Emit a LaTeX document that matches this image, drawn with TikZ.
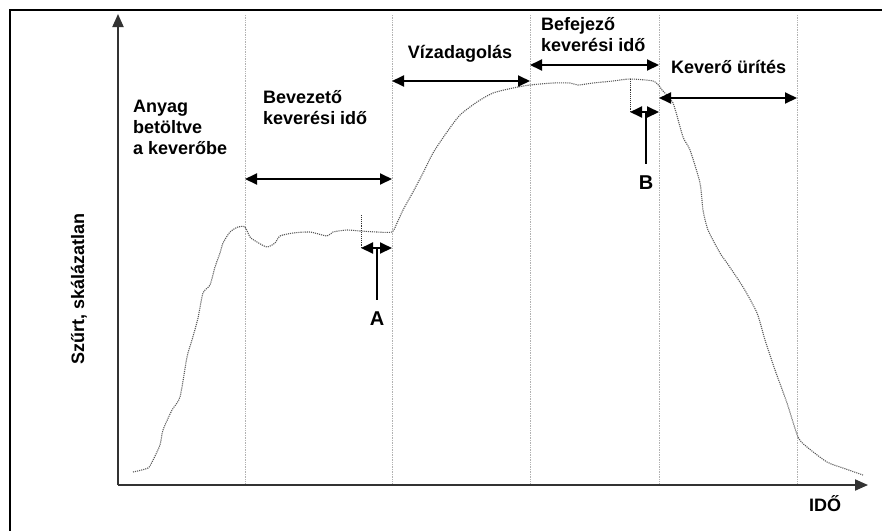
\documentclass[tikz,border=0pt]{standalone}
\usepackage{fontspec}
\setmainfont{Liberation Sans}
\usetikzlibrary{arrows.meta}

\tikzset{
    lbl/.style={font=\fontsize{18}{21}\selectfont\bfseries, inner sep=0pt},
    letter/.style={font=\fontsize{20}{24}\selectfont\bfseries, inner sep=0pt},
    span/.style={line width=1.9pt, {Triangle[length=12pt,width=11pt]}-{Triangle[length=12pt,width=11pt]}},
    guide/.style={gray!60, densely dotted, line width=0.7pt},
    axis/.style={line width=1.9pt, black!80, -{Triangle[length=13pt,width=11pt]}},
    curve/.style={black!65, densely dotted, line width=1.1pt},
}

\begin{document}
\begin{tikzpicture}[x=1pt,y=-1pt]
    \useasboundingbox (0,0) rectangle (882,531);
    % Frame (only the top and left edge are visible)
    \draw[line width=2pt] (882,10) -- (10,10) -- (10,531);

    % Axes
    \coordinate (o) at (118,485);
    \coordinate (ytop) at (118,14);
    \coordinate (xend) at (868,485);
    \draw[axis] (o) -- (ytop);
    \draw[axis] (o) -- (xend);

    % Phase boundaries
    \foreach \x in {245,392,530,659,797}
        \draw[guide] (\x,15) -- (\x,484);

    % Measured curve
    \draw[curve] plot[smooth, tension=0.4] coordinates {
        (133,472) (148,468) (153,460) (160,445) (163,430) (172,410)
        (180,397) (187,357) (192,340) (198,318) (203,293) (210,285)
        (215,267) (220,253) (223,243) (230,232) (238,227) (245,227)
        (250,237) (257,242) (267,247) (275,243) (280,236) (293,233)
        (310,232) (327,236) (333,232) (347,230) (360,231) (377,232)
        (392,232) (397,223) (403,210) (413,192) (423,173) (433,153)
        (447,132) (460,115) (477,102) (493,93) (513,88) (530,85)
        (553,83) (570,83) (578,85) (593,83) (613,81) (630,79)
        (653,81) (660,87) (662,90) (673,103) (683,137) (690,150)
        (700,183) (703,210) (708,230) (720,253) (727,263) (743,287)
        (757,313) (765,340) (775,370) (787,403) (798,437) (807,447)
        (827,462) (843,468) (863,475)};

    % Phase spans
    \coordinate (s1a) at (245,179); \coordinate (s1b) at (392,179);
    \coordinate (s2a) at (392,81);  \coordinate (s2b) at (530,81);
    \coordinate (s3a) at (530,65);  \coordinate (s3b) at (659,65);
    \coordinate (s4a) at (659,98);  \coordinate (s4b) at (797,98);
    \draw[span] (s1a) -- (s1b);
    \draw[span] (s2a) -- (s2b);
    \draw[span] (s3a) -- (s3b);
    \draw[span] (s4a) -- (s4b);

    % Phase labels
    \node[lbl, align=left, anchor=north west] (anyag) at (133,100) {Anyag\\betöltve\\a keverőbe};
    \node[lbl, align=left, anchor=north west] (bevez) at (263,90) {Bevezető\\keverési idő};
    \node[lbl, anchor=base] (viz) at (460,58) {Vízadagolás};
    \node[lbl, align=left, anchor=north west] (befej) at (541,17) {Befejező\\keverési idő};
    \node[lbl, anchor=base west] (urit) at (671,73) {Keverő ürítés};

    % Interval A
    \coordinate (a1) at (361,248); \coordinate (a2) at (392,248);
    \coordinate (a0) at (361,215); \coordinate (pa) at (377,248);
    \draw[black!80, densely dotted, line width=0.9pt] (a0) -- (a1);
    \draw[span] (a1) -- (a2);
    \node[letter] (labA) at (377,319) {A};
    \draw[line width=1.9pt, shorten >=12pt] (pa) -- (labA.north);

    % Interval B
    \coordinate (b1) at (630,112); \coordinate (b2) at (659,112);
    \coordinate (b0) at (630,79);  \coordinate (pb) at (646,112);
    \draw[black!80, densely dotted, line width=0.9pt] (b0) -- (b1);
    \draw[span] (b1) -- (b2);
    \node[letter] (labB) at (646,183) {B};
    \draw[line width=1.9pt, shorten >=12pt] (pb) -- (labB.north);

    % Axis labels
    \node[lbl, rotate=90] (ylab) at (79,289) {Szűrt, skálázatlan};
    \node[lbl, anchor=base] (xlab) at (825,511) {IDŐ};
\end{tikzpicture}
\end{document}
